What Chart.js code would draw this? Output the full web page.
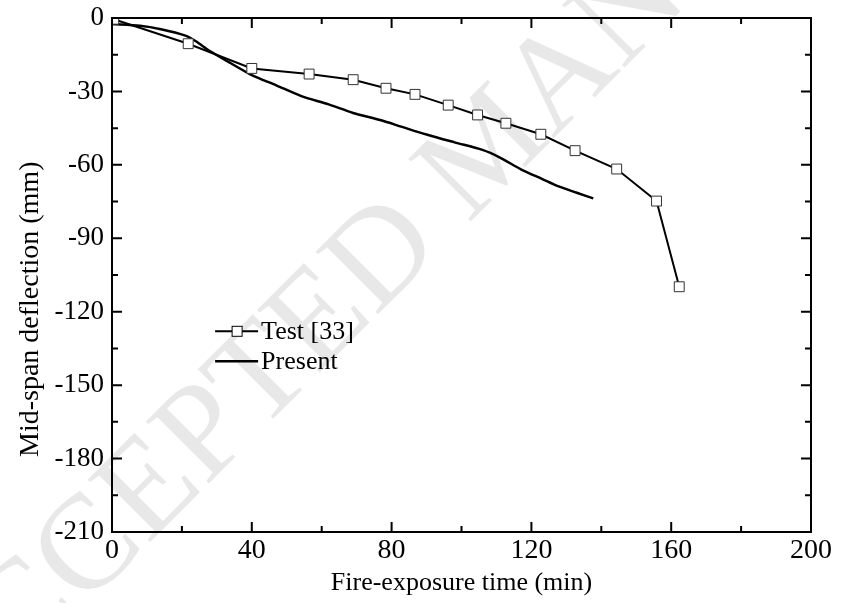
<!DOCTYPE html>
<html>
<head>
<meta charset="utf-8">
<script src="https://cdn.jsdelivr.net/npm/chart.js@4.4.1/dist/chart.umd.min.js"></script>
<style>
  html, body { margin: 0; padding: 0; background: #fff; }
  #box { width: 843px; height: 603px; }
</style>
</head>
<body>
<div id="box"><canvas id="graph"></canvas></div>
<script>
// test data [33]
const testTime = [0.5, 21.8, 40, 56.4, 69, 78.4, 86.7, 96.2, 104.6, 112.7, 122.7, 132.5, 144.4, 155.8, 162.3];
const testDefl = [-0.5, -10.5, -20.6, -22.9, -25.2, -28.7, -31.2, -35.6, -39.6, -43.0, -47.5, -54.2, -61.7, -74.8, -109.8];

// present model
const presTime = [0, 8, 14, 21, 24, 28, 34, 40, 47, 54, 62, 69, 77, 83, 90, 98, 106, 111, 117, 123, 128, 133, 137.7];
const presDefl = [-2.5, -3.2, -4.6, -7.2, -9.5, -13.5, -18.5, -23.3, -27.5, -31.8, -35.3, -38.8, -41.8, -44.5, -47.6, -50.8, -53.9, -57.0, -61.8, -65.7, -68.9, -71.4, -73.7];

const xTicks = [0, 40, 80, 120, 160, 200];
const yTicks = [0, -30, -60, -90, -120, -150, -180, -210];

const xTitle = 'Fire-exposure time (min)';
const yTitle = 'Mid-span deflection (mm)';

const serif = 'Liberation Serif';

function pts(x, y){
    return x.map((v, i) => ({x: v, y: y[i]}));
}

// faint watermark behind everything
const watermark = {
    id: 'watermark',
    beforeDraw(chart){
        const ctx = chart.ctx;
        ctx.save();
        ctx.translate(492, 150);
        ctx.rotate(-Math.PI / 4);
        ctx.font = '135px "' + serif + '"';
        ctx.fillStyle = 'rgba(0,0,0,0.09)';
        ctx.textAlign = 'center';
        ctx.textBaseline = 'middle';
        ctx.fillText('ACCEPTED MANUSCRIPT', 0, 0);
        ctx.restore();
    }
};

// inward ticks on all 4 sides, y title, legend inside the plot
const frameTicks = {
    id: 'frameTicks',
    afterDraw(chart){
        const ctx = chart.ctx;
        const a = chart.chartArea;
        const xs = chart.scales.x, ys = chart.scales.y;
        ctx.save();
        ctx.strokeStyle = '#000';
        ctx.lineWidth = 2;
        ctx.beginPath();
        for (let v = 0; v <= 200; v += 20){
            const len = v % 40 === 0 ? 10 : 6;
            const px = xs.getPixelForValue(v);
            ctx.moveTo(px, a.bottom); ctx.lineTo(px, a.bottom - len);
            ctx.moveTo(px, a.top); ctx.lineTo(px, a.top + len);
        }
        for (let v = 0; v >= -210; v -= 15){
            const len = v % 30 === 0 ? 10 : 6;
            const py = ys.getPixelForValue(v);
            ctx.moveTo(a.left, py); ctx.lineTo(a.left + len, py);
            ctx.moveTo(a.right, py); ctx.lineTo(a.right - len, py);
        }
        ctx.stroke();
        ctx.strokeRect(a.left, a.top, a.right - a.left, a.bottom - a.top);

        // y title (sits a bit below the plot centre in the original)
        ctx.fillStyle = '#000';
        ctx.font = '28px "' + serif + '"';
        ctx.textAlign = 'center';
        ctx.textBaseline = 'middle';
        ctx.save();
        ctx.translate(31, ys.getPixelForValue(-119));
        ctx.rotate(-Math.PI / 2);
        ctx.fillText(yTitle, 0, 0);
        ctx.restore();

        // legend
        const lx = xs.getPixelForValue(29.5), ly = ys.getPixelForValue(-128);
        const gap = 30;
        ctx.font = '26px "' + serif + '"';
        ctx.textAlign = 'left';
        chart.data.datasets.forEach((ds, i) => {
            const y = ly + i * gap;
            ctx.beginPath();
            ctx.lineWidth = ds.borderWidth;
            ctx.moveTo(lx, y); ctx.lineTo(lx + 43, y);
            ctx.stroke();
            if (ds.pointRadius > 0){
                ctx.lineWidth = 1;
                ctx.fillStyle = '#fff';
                ctx.fillRect(lx + 17, y - 5, 10, 10);
                ctx.strokeRect(lx + 17, y - 5, 10, 10);
                ctx.fillStyle = '#000';
            }
            ctx.fillText(ds.label, lx + 46, y + 1);
        });
        ctx.restore();
    }
};

new Chart(document.getElementById('graph'), {
    type: 'line',
    data: {
        datasets: [{
            label: 'Test [33]',
            data: pts(testTime, testDefl),
            borderColor: '#000',
            borderWidth: 2,
            pointStyle: 'rect',
            pointRadius: 7,
            pointBorderWidth: 1,
            pointBorderColor: '#333',
            pointBackgroundColor: '#fff',
            tension: 0
        }, {
            label: 'Present',
            data: pts(presTime, presDefl),
            borderColor: '#000',
            borderWidth: 2.5,
            pointRadius: 0,
            tension: 0.3
        }]
    },
    options: {
        responsive: true,
        maintainAspectRatio: false,
        animation: false,
        layout: { padding: { top: 18, right: 32, left: 0, bottom: 0 } },
        plugins: { legend: { display: false }, tooltip: { enabled: false } },
        scales: {
            x: {
                type: 'linear',
                min: 0, max: 200,
                afterBuildTicks: s => { s.ticks = xTicks.map(v => ({value: v})); },
                afterFit: s => { s.height = 71; },
                grid: { display: false, drawTicks: false },
                border: { display: false },
                ticks: { color: '#000', padding: 2, maxRotation: 0, font: { family: serif, size: 28 } },
                title: { display: true, text: xTitle, color: '#000', padding: { top: 0, bottom: 4 }, font: { family: serif, size: 26 } }
            },
            y: {
                type: 'linear',
                min: -210, max: 0,
                afterBuildTicks: s => { s.ticks = yTicks.map(v => ({value: v})); },
                afterFit: s => { s.width = 112; s.paddingTop = 0; s.paddingBottom = 0; },
                grid: { display: false, drawTicks: false },
                border: { display: false },
                ticks: { color: '#000', padding: 8, font: { family: serif, size: 27 } },
                title: { display: false }
            }
        }
    },
    plugins: [watermark, frameTicks]
});
</script>
</body>
</html>
